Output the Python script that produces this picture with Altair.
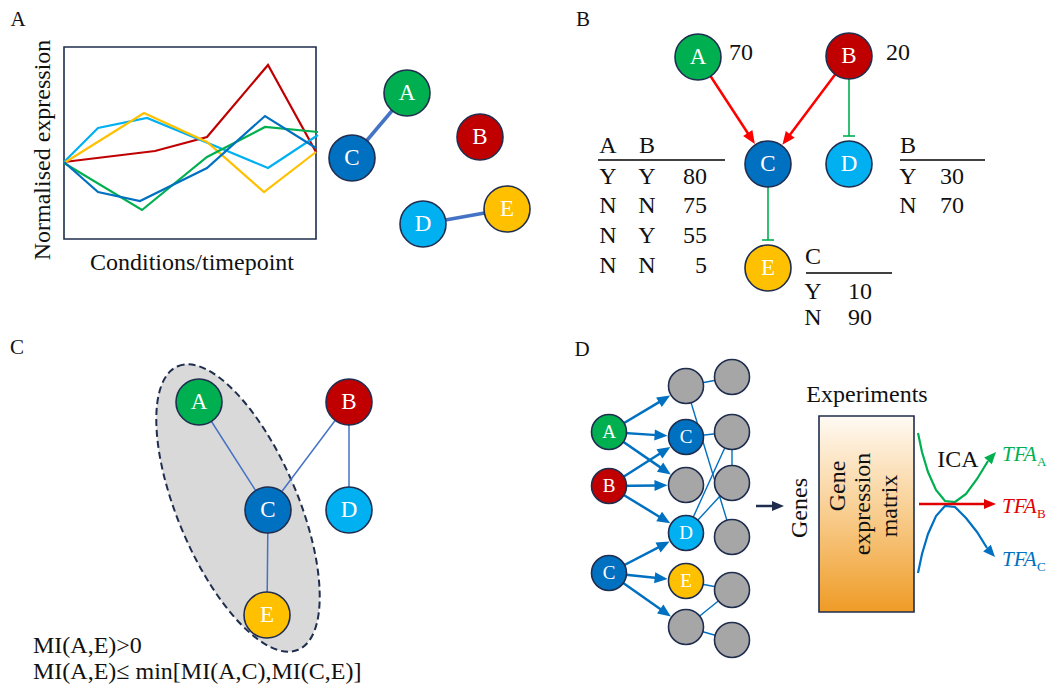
import math
import altair as alt
import pandas as pd

W, H = 1040, 677
XS = alt.Scale(domain=[0, 1056], range=[-8, 1048], nice=False, zero=False)
YS = alt.Scale(domain=[0, 693], range=[-8, 685], nice=False, zero=False)
SERIF = "Liberation Serif"

GREEN = "#00b050"; RED = "#c00000"; BLUE = "#0070c0"; LBLUE = "#00b0f0"
YELLOW = "#ffc000"; GRAY = "#a6a6a6"; NAVY = "#1f2d4e"; EDGE = "#4472c4"
ARROW_RED = "#ff0000"

# ---------------- Panel A: expression profiles ----------------
profile_names = ["red", "cyan", "yellow", "green", "blue"]
profile_colors = [RED, LBLUE, YELLOW, GREEN, BLUE]
profile_red_x = [64, 155, 207, 268, 316]
profile_red_y = [162, 151, 137, 65, 152]
profile_cyan_x = [64, 98, 147, 220, 268, 318]
profile_cyan_y = [162, 128, 118, 148, 168, 135]
profile_yellow_x = [64, 144, 207, 264, 316]
profile_yellow_y = [163, 113, 142, 192, 152]
profile_green_x = [64, 142, 207, 265, 318]
profile_green_y = [163, 210, 157, 127, 132]
profile_blue_x = [64, 98, 140, 207, 265, 316]
profile_blue_y = [162, 192, 201, 168, 116, 148]
profile_xs = [profile_red_x, profile_cyan_x, profile_yellow_x, profile_green_x, profile_blue_x]
profile_ys = [profile_red_y, profile_cyan_y, profile_yellow_y, profile_green_y, profile_blue_y]
frame_box = [64, 47, 316, 239]

# ---------------- nodes ----------------
node_key = ["aA", "aB", "aC", "aD", "aE",
            "bA", "bB", "bC", "bD", "bE",
            "cA", "cB", "cC", "cD", "cE",
            "dA", "dB", "dC",
            "m1", "m2", "m3", "m4", "m5", "m6",
            "r1", "r2", "r3", "r4", "r5", "r6"]
node_label = ["A", "B", "C", "D", "E",
              "A", "B", "C", "D", "E",
              "A", "B", "C", "D", "E",
              "A", "B", "C",
              "", "C", "", "D", "E", "",
              "", "", "", "", "", ""]
node_x = [407, 480, 352, 423, 507,
          698, 849, 768, 849, 768,
          199, 349, 268, 349, 267,
          609, 609, 609,
          686, 686, 686, 686, 686, 686,
          732, 732, 732, 732, 732, 732]
node_y = [93, 137, 158, 224, 209,
          57, 56, 164, 164, 268,
          402, 402, 510, 510, 615,
          432, 486, 573,
          386, 437, 485, 533, 581, 627,
          377, 432, 483, 537, 590, 640]
node_fill = [GREEN, RED, BLUE, LBLUE, YELLOW,
             GREEN, RED, BLUE, LBLUE, YELLOW,
             GREEN, RED, BLUE, LBLUE, YELLOW,
             GREEN, RED, BLUE,
             GRAY, BLUE, GRAY, LBLUE, YELLOW, GRAY,
             GRAY, GRAY, GRAY, GRAY, GRAY, GRAY]
node_diam = [46] * 15 + [35] * 15
node_font = [23] * 15 + [19] * 15

# ---------------- edges ----------------
edge_from = ["aA", "aD", "cA", "cB", "cB", "cC",
             "m1", "m1", "m2", "r2", "r2", "m4", "m5", "r5", "m6"]
edge_to = ["aC", "aE", "cC", "cC", "cD", "cE",
           "r1", "r4", "r2", "m4", "r3", "r3", "r5", "m6", "r6"]
edge_width = [3.5, 3.5, 1.5, 1.5, 1.5, 1.5,
              1.4, 1.4, 1.4, 1.4, 1.4, 1.4, 1.4, 1.4, 1.4]
edge_color = [EDGE, EDGE, EDGE, EDGE, EDGE, EDGE,
              BLUE, BLUE, BLUE, BLUE, BLUE, BLUE, BLUE, BLUE, BLUE]

# arrows between nodes
arrow_from = ["bA", "bB", "dA", "dA", "dA", "dB", "dB", "dB", "dC", "dC", "dC"]
arrow_to = ["bC", "bC", "m1", "m2", "m3", "m2", "m3", "m4", "m4", "m5", "m6"]
arrow_color = [ARROW_RED, ARROW_RED] + [BLUE] * 9
arrow_head = [13, 13] + [13] * 9

# inhibition (T-bar) links
tbar_from = ["bB", "bC"]
tbar_to = ["bD", "bE"]

# free arrows (start, tip)
free_x1 = [756, 919]
free_y1 = [506, 504]
free_x2 = [784, 996]
free_y2 = [506, 504]
free_color = [NAVY, "#e00000"]

# ICA curves
curve_green_x = [918, 922, 928, 936, 945, 955, 966, 977, 988]
curve_green_y = [433, 452, 472, 490, 501, 502, 494, 479, 461]
curve_blue_x = [918, 922, 928, 936, 945, 955, 966, 977, 987]
curve_blue_y = [573, 554, 534, 516, 506, 507, 518, 532, 548]
curve_tip_x = [996, 995]
curve_tip_y = [452, 557]

# gradient matrix box
matrix_box = [819, 416, 914, 612]

# ellipse in panel C
ellipse_center = [238, 508]

# tables
table_lines_x1 = [598, 900, 806]
table_lines_x2 = [725, 985, 892]
table_lines_y = [160, 160, 273]
tbl_letter = ["A", "B", "Y", "Y", "N", "N", "N", "Y", "N", "N", "B", "Y", "N", "C", "Y", "N"]
tbl_letter_x = [608, 647, 608, 647, 608, 647, 608, 647, 608, 647, 908, 908, 908, 813, 813, 813]
tbl_letter_y = [146, 146, 177, 177, 206, 206, 236, 236, 266, 266, 146, 177, 206, 257, 292, 318]
tbl_num = ["80", "75", "55", "5", "30", "70", "10", "90"]
tbl_num_x = [707, 707, 707, 707, 964, 964, 872, 872]
tbl_num_y = [177, 206, 236, 266, 177, 206, 292, 318]

# texts
ctext = ["A", "B", "C", "D", "Conditions/timepoint", "Experiments", "ICA"]
ctext_x = [18, 583, 17, 582, 192, 867, 958]
ctext_y = [20, 20, 348, 350, 263, 395, 460]
ctext_size = [21, 21, 21, 21, 24, 24, 24]
rtext = ["Normalised expression", "Genes", "Gene", "expression", "matrix"]
rtext_x = [43, 800, 838, 863, 890]
rtext_y = [150, 508, 486, 504, 506]
ltext = ["70", "20", "MI(A,E)>0", "MI(A,E)\u2264 min[MI(A,C),MI(C,E)]"]
ltext_x = [729, 886, 33, 33]
ltext_y = [53, 53, 646, 672]
tfa_y = [455, 507, 560]
tfa_sub = ["A", "B", "C"]
tfa_color = [GREEN, "#e00000", BLUE]

# ---------------- build tables ----------------
def ex(f="x"):
    return alt.X(f"{f}:Q", scale=XS, axis=None)

def ey(f="y"):
    return alt.Y(f"{f}:Q", scale=YS, axis=None)

pos = {k: (x, y, d) for k, x, y, d in zip(node_key, node_x, node_y, node_diam)}

nodes = pd.DataFrame(dict(key=node_key, label=node_label, x=node_x, y=node_y,
                          fill=node_fill, size=[d * d for d in node_diam], fs=node_font))

prof_rows = []
for name, col, xs, ys in zip(profile_names, profile_colors, profile_xs, profile_ys):
    for i, (x, y) in enumerate(zip(xs, ys)):
        prof_rows.append(dict(series=name, col=col, o=i, x=x, y=y))
for name, col, xs, ys in [("cg", GREEN, curve_green_x, curve_green_y), ("cb", BLUE, curve_blue_x, curve_blue_y)]:
    for i, (x, y) in enumerate(zip(xs, ys)):
        prof_rows.append(dict(series=name, col=col, o=i, x=x, y=y))
prof_df = pd.DataFrame(prof_rows)

edge_rows = []
for a, b, w, c in zip(edge_from, edge_to, edge_width, edge_color):
    edge_rows.append(dict(x=pos[a][0], y=pos[a][1], x2=pos[b][0], y2=pos[b][1], w=w, col=c))

head_rows = []
def add_arrow(x1, y1, tx, ty, col, head, w=2.5):
    dx, dy = tx - x1, ty - y1
    L = math.hypot(dx, dy)
    ux, uy = dx / L, dy / L
    bx, by = tx - ux * head * 0.8, ty - uy * head * 0.8
    edge_rows.append(dict(x=x1, y=y1, x2=bx, y2=by, w=w, col=col))
    head_rows.append(dict(x=tx, y=ty, ang=math.degrees(math.atan2(dy, dx)) % 360, size=head * head, col=col))

for a, b, c, h in zip(arrow_from, arrow_to, arrow_color, arrow_head):
    x1, y1, _ = pos[a]
    x2, y2, d2 = pos[b]
    L = math.hypot(x2 - x1, y2 - y1)
    r = d2 / 2 + 1
    add_arrow(x1, y1, x2 - (x2 - x1) / L * r, y2 - (y2 - y1) / L * r, c, h)

for x1, y1, x2, y2, c in zip(free_x1, free_y1, free_x2, free_y2, free_color):
    add_arrow(x1, y1, x2, y2, c, 12)

for xs, ys, tx, ty, c in zip([curve_green_x, curve_blue_x], [curve_green_y, curve_blue_y],
                             curve_tip_x, curve_tip_y, [GREEN, BLUE]):
    dx, dy = tx - xs[-1], ty - ys[-1]
    head_rows.append(dict(x=tx, y=ty, ang=math.degrees(math.atan2(dy, dx)) % 360, size=144, col=c))

for a, b in zip(tbar_from, tbar_to):
    x1, y1, _ = pos[a]
    x2, y2, d2 = pos[b]
    yb = y2 - d2 / 2 - 5
    edge_rows.append(dict(x=x1, y=y1 + 20, x2=x2, y2=yb, w=1.6, col=GREEN))
    edge_rows.append(dict(x=x2 - 6, y=yb, x2=x2 + 6, y2=yb, w=1.6, col=GREEN))

for x1, x2, y in zip(table_lines_x1, table_lines_x2, table_lines_y):
    edge_rows.append(dict(x=x1, y=y, x2=x2, y2=y, w=1.5, col="#000000"))

edge_df = pd.DataFrame(edge_rows)
head_df = pd.DataFrame(head_rows)

# ---------------- layers ----------------
frame = alt.Chart(pd.DataFrame(dict(x=[frame_box[0]], y=[frame_box[1]], x2=[frame_box[2]], y2=[frame_box[3]]))).mark_rect(
    fill="white", stroke=NAVY, strokeWidth=1.6
).encode(x=ex(), y=ey(), x2="x2:Q", y2="y2:Q")

k = 0.5523
rx = 0.39
ELLIPSE = (f"M0,-1 C{rx*k:.4f},-1 {rx},-{k} {rx},0 C{rx},{k} {rx*k:.4f},1 0,1 "
           f"C-{rx*k:.4f},1 -{rx},{k} -{rx},0 C-{rx},-{k} -{rx*k:.4f},-1 0,-1 Z")
ellipse = alt.Chart(pd.DataFrame(dict(x=[ellipse_center[0]], y=[ellipse_center[1]]))).mark_point(
    shape=ELLIPSE, filled=True, fill="#d9d9d9", stroke=NAVY, strokeWidth=2, strokeDash=[7, 4],
    opacity=1, size=308 * 308, angle=337
).encode(x=ex(), y=ey())

lines = alt.Chart(prof_df).mark_line(strokeWidth=2.2).encode(
    x=ex(), y=ey(), detail="series:N", order="o:Q", color=alt.Color("col:N", scale=None)
)

rules = alt.Chart(edge_df).mark_rule(strokeCap="butt").encode(
    x=ex(), y=ey(), x2="x2:Q", y2="y2:Q",
    color=alt.Color("col:N", scale=None), strokeWidth=alt.StrokeWidth("w:Q", scale=None)
)

grad = alt.LinearGradient(
    gradient="linear",
    stops=[alt.GradientStop(color="#fffaf4", offset=0),
           alt.GradientStop(color="#f8cd8e", offset=0.5),
           alt.GradientStop(color="#ef9b26", offset=1)],
    x1=0, x2=0, y1=0, y2=1,
)
box = alt.Chart(pd.DataFrame(dict(x=[matrix_box[0]], y=[matrix_box[1]], x2=[matrix_box[2]], y2=[matrix_box[3]]))).mark_rect(
    fill=grad, stroke=NAVY, strokeWidth=1.6
).encode(x=ex(), y=ey(), x2="x2:Q", y2="y2:Q")

circles = alt.Chart(nodes).mark_point(
    shape="circle", filled=True, opacity=1, stroke=NAVY, strokeWidth=1.6
).encode(x=ex(), y=ey(), fill=alt.Fill("fill:N", scale=None), size=alt.Size("size:Q", scale=None))

node_text = alt.Chart(nodes).mark_text(font=SERIF, color="white", align="center", baseline="middle").encode(
    x=ex(), y=ey(), text="label:N", size=alt.Size("fs:Q", scale=None)
)

ARROW = "M0,0 L-2,-0.85 L-2,0.85 Z"
heads = alt.Chart(head_df).mark_point(shape=ARROW, filled=True, opacity=1, strokeWidth=0).encode(
    x=ex(), y=ey(), angle=alt.Angle("ang:Q", scale=None), size=alt.Size("size:Q", scale=None),
    color=alt.Color("col:N", scale=None)
)

ctext_df = pd.DataFrame(dict(t=ctext + tbl_letter, x=ctext_x + tbl_letter_x, y=ctext_y + tbl_letter_y,
                             s=ctext_size + [24] * len(tbl_letter)))
ctext_layer = alt.Chart(ctext_df).mark_text(font=SERIF, color="#111111", align="center", baseline="middle").encode(
    x=ex(), y=ey(), text="t:N", size=alt.Size("s:Q", scale=None)
)
rtext_layer = alt.Chart(pd.DataFrame(dict(t=rtext, x=rtext_x, y=rtext_y))).mark_text(
    font=SERIF, color="#111111", align="center", baseline="middle", angle=270, fontSize=24
).encode(x=ex(), y=ey(), text="t:N")
ltext_layer = alt.Chart(pd.DataFrame(dict(t=ltext, x=ltext_x, y=ltext_y))).mark_text(
    font=SERIF, color="#111111", align="left", baseline="middle", fontSize=24
).encode(x=ex(), y=ey(), text="t:N")
num_layer = alt.Chart(pd.DataFrame(dict(t=tbl_num, x=tbl_num_x, y=tbl_num_y))).mark_text(
    font=SERIF, color="#111111", align="right", baseline="middle", fontSize=24
).encode(x=ex(), y=ey(), text="t:N")
tfa_df = pd.DataFrame(dict(t=["TFA"] * 3, sub=tfa_sub, x=[1002] * 3, xs=[1037] * 3, y=tfa_y,
                           ys=[v + 7 for v in tfa_y], col=tfa_color))
tfa_layer = alt.Chart(tfa_df).mark_text(
    font=SERIF, fontStyle="italic", align="left", baseline="middle", fontSize=21
).encode(x=ex(), y=ey(), text="t:N", color=alt.Color("col:N", scale=None))
tfa_sub_layer = alt.Chart(tfa_df).mark_text(
    font=SERIF, align="left", baseline="middle", fontSize=13
).encode(x=ex("xs"), y=ey("ys"), text="sub:N", color=alt.Color("col:N", scale=None))

chart = alt.layer(
    frame, lines, ellipse, rules, box, circles, node_text, heads,
    ctext_layer, rtext_layer, ltext_layer, num_layer, tfa_layer, tfa_sub_layer
).properties(width=W, height=H, padding=0, autosize="none", background="white").configure_view(stroke=None)

chart.save("out.html", embed_options={"renderer": "svg", "actions": False})
